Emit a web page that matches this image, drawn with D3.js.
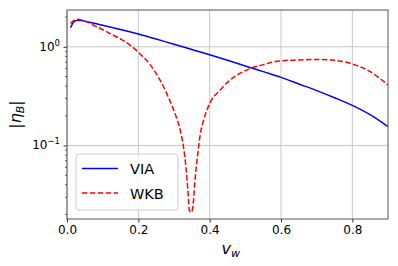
<!DOCTYPE html>
<html>
<head>
<meta charset="utf-8">
<script src="https://cdn.jsdelivr.net/npm/d3@7"></script>
<style>
  body { margin: 0; background: #fff; }
  svg { display: block; font-family: "DejaVu Sans", sans-serif; }
</style>
</head>
<body>
<svg id="chart" width="398" height="266"></svg>
<script>
// data
let viaX = [0.01, 0.02, 0.03, 0.05, 0.1, 0.15, 0.2, 0.25, 0.3, 0.35, 0.4, 0.45, 0.5, 0.55, 0.6, 0.65, 0.7, 0.75, 0.8, 0.85, 0.9]
let viaY = [1.56, 1.80, 1.86, 1.82, 1.65, 1.50, 1.35, 1.20, 1.06, 0.94, 0.83, 0.73, 0.64, 0.56, 0.49, 0.42, 0.36, 0.305, 0.255, 0.205, 0.155]

let wkbX = [0.01, 0.02, 0.03, 0.05, 0.08, 0.12, 0.15, 0.177, 0.2, 0.233, 0.261, 0.284, 0.303, 0.317, 0.326, 0.334, 0.340, 0.343, 0.349, 0.354, 0.359, 0.368, 0.373, 0.382, 0.401, 0.429, 0.457, 0.513, 0.55, 0.597, 0.65, 0.71, 0.75, 0.794, 0.85, 0.9]
let wkbY = [1.72, 1.86, 1.90, 1.82, 1.62, 1.37, 1.20, 1.04, 0.88, 0.66, 0.46, 0.31, 0.21, 0.145, 0.10, 0.058, 0.031, 0.022, 0.021, 0.026, 0.045, 0.09, 0.125, 0.175, 0.27, 0.364, 0.46, 0.60, 0.66, 0.72, 0.735, 0.745, 0.73, 0.68, 0.56, 0.41]

let xTicks = [0, 0.2, 0.4, 0.6, 0.8]
let yMajor = [0.1, 1]
let yMinor = [0.02, 0.03, 0.04, 0.05, 0.06, 0.07, 0.08, 0.09, 0.2, 0.3, 0.4, 0.5, 0.6, 0.7, 0.8, 0.9, 2]
let series = [
    { name: "VIA", xs: viaX, ys: viaY, color: "#0000ff", dash: null },
    { name: "WKB", xs: wkbX, ys: wkbY, color: "#ff0000", dash: "5.5,2.4" }
]

let margin = { left: 67, top: 10, right: 10, bottom: 47 }
let width = 398, height = 266

let svg = d3.select("#chart")
let x = d3.scaleLinear().domain([0, 0.9]).range([margin.left, width - margin.right])
let y = d3.scaleLog().domain([0.018, 2.36]).range([height - margin.bottom, margin.top])

// grid
let grid = svg.append("g")
grid.selectAll(".gx").data(xTicks).join("line")
    .attr("x1", d => x(d)).attr("x2", d => x(d))
    .attr("y1", margin.top).attr("y2", height - margin.bottom)
    .attr("stroke", "#c8c8c8").attr("stroke-width", 1)
grid.selectAll(".gy").data(yMajor).join("line")
    .attr("x1", margin.left).attr("x2", width - margin.right)
    .attr("y1", d => y(d)).attr("y2", d => y(d))
    .attr("stroke", "#c8c8c8").attr("stroke-width", 1)

// curves
let clip = svg.append("clipPath").attr("id", "clip").append("rect")
    .attr("x", margin.left).attr("y", margin.top)
    .attr("width", width - margin.left - margin.right)
    .attr("height", height - margin.top - margin.bottom)

let line = d3.line().x(d => x(d[0])).y(d => y(d[1])).curve(d3.curveMonotoneX)
series.forEach(s => {
    svg.append("path")
        .datum(s.xs.map((v, i) => [v, s.ys[i]]))
        .attr("clip-path", "url(#clip)")
        .attr("fill", "none")
        .attr("stroke", s.color)
        .attr("stroke-width", 1.5)
        .attr("stroke-dasharray", s.dash)
        .attr("d", line)
})

// axes
let xAxis = svg.append("g")
    .attr("transform", "translate(0," + (height - margin.bottom) + ")")
    .call(d3.axisBottom(x).tickValues(xTicks).tickFormat(d3.format(".1f")).tickSize(3.5).tickPadding(3))
xAxis.select(".domain").remove()
xAxis.selectAll("text").attr("font-size", 12).attr("fill", "#000").attr("font-family", "DejaVu Sans")
xAxis.selectAll("line").attr("stroke", "#333")

let yAxis = svg.append("g")
    .attr("transform", "translate(" + margin.left + ",0)")
    .call(d3.axisLeft(y).tickValues(yMajor).tickFormat("").tickSize(3.5))
yAxis.select(".domain").remove()
yAxis.selectAll("line").attr("stroke", "#333")
yAxis.selectAll(".minor").data(yMinor).join("line")
    .attr("x1", 0).attr("x2", -2)
    .attr("y1", d => y(d)).attr("y2", d => y(d))
    .attr("stroke", "#333").attr("stroke-width", 0.8)

// y tick labels 10^n
yMajor.forEach(v => {
    let p = Math.round(Math.log10(v))
    let t = svg.append("text")
        .attr("x", margin.left - 7).attr("y", y(v) + 4)
        .attr("text-anchor", "end").attr("font-size", 12)
    t.append("tspan").text("10")
    t.append("tspan").attr("dy", -5).attr("font-size", 8.5).text(p < 0 ? "\u2212" + (-p) : "" + p)
})

// frame
svg.append("rect")
    .attr("x", margin.left).attr("y", margin.top)
    .attr("width", width - margin.left - margin.right)
    .attr("height", height - margin.top - margin.bottom)
    .attr("fill", "none").attr("stroke", "#555").attr("stroke-width", 1)

// axis titles
let xt = svg.append("text")
    .attr("x", (margin.left + width - margin.right) / 2 - 6).attr("y", 254)
    .attr("font-size", 16)
xt.append("tspan").attr("font-style", "italic").text("v")
xt.append("tspan").attr("font-style", "italic").attr("font-size", 11).attr("dy", 3).text("w")

let yt = svg.append("text")
    .attr("transform", "translate(21," + ((margin.top + height - margin.bottom) / 2) + ") rotate(-90)")
    .attr("text-anchor", "middle").attr("font-size", 16)
yt.append("tspan").text("|")
yt.append("tspan").attr("font-style", "italic").text("\u03b7")
yt.append("tspan").attr("font-style", "italic").attr("font-size", 11).attr("dy", 3).text("B")
yt.append("tspan").attr("dy", -3).text("|")

// legend
let lg = svg.append("g").attr("transform", "translate(76,154)")
lg.append("rect")
    .attr("width", 102).attr("height", 56).attr("rx", 3)
    .attr("fill", "#fff").attr("fill-opacity", 0.8)
    .attr("stroke", "#ccc").attr("stroke-width", 1)
series.forEach((s, i) => {
    let cy = 14.5 + i * 24.5
    lg.append("line")
        .attr("x1", 6).attr("x2", 42).attr("y1", cy).attr("y2", cy)
        .attr("stroke", s.color).attr("stroke-width", 1.5)
        .attr("stroke-dasharray", s.dash)
    lg.append("text")
        .attr("x", 54).attr("y", cy + 5.5)
        .attr("font-size", 14.5)
        .text(s.name)
})
</script>
</body>
</html>
